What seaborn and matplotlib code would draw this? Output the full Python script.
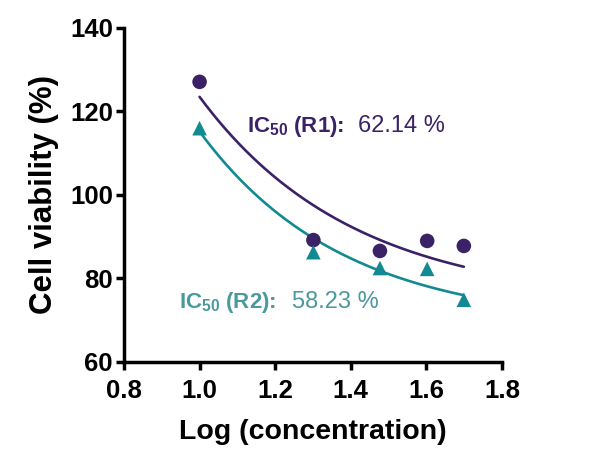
import matplotlib
matplotlib.use("Agg")
import matplotlib.pyplot as plt
import numpy as np
import pandas as pd
import seaborn as sns

# measured points (log10 concentration vs. viability)
log_conc = [1.0, 1.301, 1.477, 1.602, 1.699]
viability_r1 = [127.1, 89.2, 86.6, 89.0, 87.8]
viability_r2 = [116.0, 86.3, 82.5, 82.3, 74.9]

# fitted one-phase decay: plateau + span * exp(-k * (x - 1))
fit_r1 = (74.0, 49.5, 2.47)
fit_r2 = (68.7, 46.5, 2.65)

ic50_r1 = "62.14 %"
ic50_r2 = "58.23 %"

purple = "#3b2266"
teal = "#128a91"
teal_text = "#4b989d"

sns.set_style("ticks")
plt.rcParams["font.family"] = ["Liberation Sans", "DejaVu Sans"]
plt.rcParams["mathtext.fontset"] = "custom"
plt.rcParams["mathtext.bf"] = "Liberation Sans:bold"
plt.rcParams["mathtext.rm"] = "Liberation Sans"
plt.rcParams["text.color"] = "black"
plt.rcParams["axes.labelcolor"] = "black"
plt.rcParams["xtick.color"] = "black"
plt.rcParams["ytick.color"] = "black"

points = pd.DataFrame({
    "x": log_conc * 2,
    "y": viability_r1 + viability_r2,
    "rep": ["R1"] * 5 + ["R2"] * 5,
})

xs = np.linspace(min(log_conc), max(log_conc), 200)
curves = pd.DataFrame({
    "x": np.concatenate([xs, xs]),
    "y": np.concatenate([
        fit_r1[0] + fit_r1[1] * np.exp(-fit_r1[2] * (xs - 1)),
        fit_r2[0] + fit_r2[1] * np.exp(-fit_r2[2] * (xs - 1)),
    ]),
    "rep": ["R1"] * len(xs) + ["R2"] * len(xs),
})

fig = plt.figure(figsize=(6.15, 4.55), dpi=100)
ax = fig.add_axes([0.2016, 0.2044, 0.6147, 0.7341])

pal = {"R1": purple, "R2": teal}
sns.lineplot(data=curves, x="x", y="y", hue="rep", palette=pal, lw=1.9,
             legend=False, ax=ax)
sns.scatterplot(data=points, x="x", y="y", hue="rep", style="rep",
                markers={"R1": "o", "R2": "^"}, palette=pal, s=110,
                linewidth=0, legend=False, ax=ax, zorder=3)

ax.set_xlim(0.8, 1.8)
ax.set_ylim(60, 140)
ax.set_xticks([0.8, 1.0, 1.2, 1.4, 1.6, 1.8])
ax.set_yticks([60, 80, 100, 120, 140])
ax.set_xticklabels(["0.8", "1.0", "1.2", "1.4", "1.6", "1.8"])
ax.set_ylabel("Cell viability (%)", fontsize=22.5, fontweight="bold", labelpad=8)
ax.set_xlabel("Log (concentration)", fontsize=20.5, fontweight="bold", labelpad=12)
ax.tick_params(axis="both", labelsize=18.5, width=2.5, length=6, direction="out",
               color="black", labelcolor="black", pad=2)
ax.tick_params(axis="x", pad=6)
for lab in ax.get_xticklabels() + ax.get_yticklabels():
    lab.set_fontweight("bold")
for side in ["left", "bottom"]:
    ax.spines[side].set_linewidth(2.5)
    ax.spines[side].set_color("black")
sns.despine(ax=ax)
ax.margins(0)

ax.text(1.125, 115.0, r"$\mathbf{IC_{50}}$ (R1):", fontsize=16, fontweight="bold",
        color=purple, va="baseline", ha="left")
ax.text(1.419, 115.0, ic50_r1, fontsize=17, color=purple, va="baseline", ha="left")
ax.text(0.9455, 72.9, r"$\mathbf{IC_{50}}$ (R2):", fontsize=16, fontweight="bold",
        color=teal_text, va="baseline", ha="left")
ax.text(1.244, 72.9, ic50_r2, fontsize=17, color=teal_text, va="baseline", ha="left")

fig.savefig("out.png", dpi=100)
